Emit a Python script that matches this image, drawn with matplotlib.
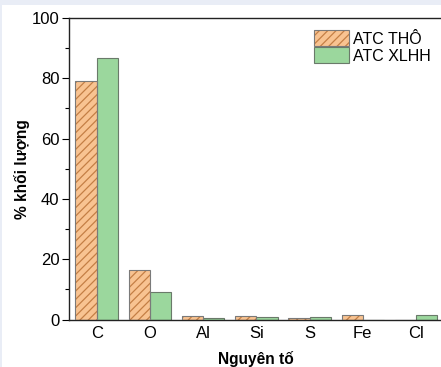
import matplotlib
matplotlib.use("Agg")
import matplotlib.pyplot as plt
from matplotlib.patches import Rectangle
from matplotlib.legend_handler import HandlerTuple
import numpy as np

elements = ["C", "O", "Al", "Si", "S", "Fe", "Cl"]
atc_tho = [79.0, 16.5, 1.0, 1.2, 0.5, 1.4, 0.0]
atc_xlhh = [86.8, 9.1, 0.5, 0.9, 0.7, 0.0, 1.5]
series_labels = ["ATC THÔ", "ATC XLHH"]
yticks = [0, 20, 40, 60, 80, 100]

plt.rcParams["font.family"] = ["Liberation Sans", "DejaVu Sans"]
plt.rcParams["hatch.linewidth"] = 0.9

W, H = 441, 367
fig = plt.figure(figsize=(W / 100, H / 100), dpi=100)
fig.patch.set_facecolor("white")

# light frame along the top and left edges
band = "#e9edf6"
fig.add_artist(Rectangle((0, 1 - 5 / H), 1, 5 / H, transform=fig.transFigure,
                         facecolor=band, edgecolor="none", zorder=0))
fig.add_artist(Rectangle((0, 0), 2 / W, 1, transform=fig.transFigure,
                         facecolor=band, edgecolor="none", zorder=0))

ax = fig.add_axes([69 / W, 47.5 / H, 374.7 / W, 301.5 / H])
x = np.arange(len(elements))
bw = 0.4

tho_fill, tho_hatch, tho_edge = "#f8c391", "#c47f45", "#7a7a7a"
xlhh_fill, xlhh_edge = "#9bd79d", "#6a7a6a"

# hatched fill (hatch takes the edge colour), then a separate grey outline
ax.bar(x - bw / 2, atc_tho, width=bw, facecolor=tho_fill,
       edgecolor=tho_hatch, linewidth=0, hatch="////", zorder=2)
ax.bar(x - bw / 2, atc_tho, width=bw, facecolor="none",
       edgecolor=tho_edge, linewidth=0.8, zorder=3)
ax.bar(x + bw / 2, atc_xlhh, width=bw, facecolor=xlhh_fill,
       edgecolor=xlhh_edge, linewidth=0.8, zorder=2)

ax.set_xlim(-0.52, 6.52)
ax.set_ylim(0, 100)
ax.set_xticks(x)
ax.set_xticklabels(elements)
ax.set_yticks(yticks)
ax.set_yticks(np.arange(10, 100, 20), minor=True)
ax.tick_params(axis="x", length=0, labelsize=12, pad=5)
ax.tick_params(axis="y", which="major", direction="out", length=5, width=0.8,
               labelsize=12, pad=2)
ax.tick_params(axis="y", which="minor", direction="out", length=3, width=0.8)
for s in ax.spines.values():
    s.set_linewidth(1.0)
    s.set_color("#222222")

ax.set_xlabel("Nguyên tố", fontsize=11.2, fontweight="bold", labelpad=7)
ax.set_ylabel("% khối lượng", fontsize=11.2, fontweight="bold", labelpad=1)

h_tho_fill = Rectangle((0, 0), 1, 1, facecolor=tho_fill, edgecolor=tho_hatch,
                       linewidth=0, hatch="////")
h_tho_edge = Rectangle((0, 0), 1, 1, facecolor="none", edgecolor=tho_edge,
                       linewidth=0.8)
h_xlhh = Rectangle((0, 0), 1, 1, facecolor=xlhh_fill, edgecolor=xlhh_edge,
                   linewidth=0.8)
ax.legend([(h_tho_fill, h_tho_edge), h_xlhh], series_labels,
          handler_map={tuple: HandlerTuple(ndivide=1, pad=0)},
          loc="upper left", bbox_to_anchor=(303 / W, 1 - 19 / H),
          bbox_transform=fig.transFigure, frameon=False, fontsize=11.5,
          handlelength=2.2, handleheight=1.15, handletextpad=0.25,
          labelspacing=0.05, borderpad=0.2)

fig.savefig("out.png", dpi=100)
